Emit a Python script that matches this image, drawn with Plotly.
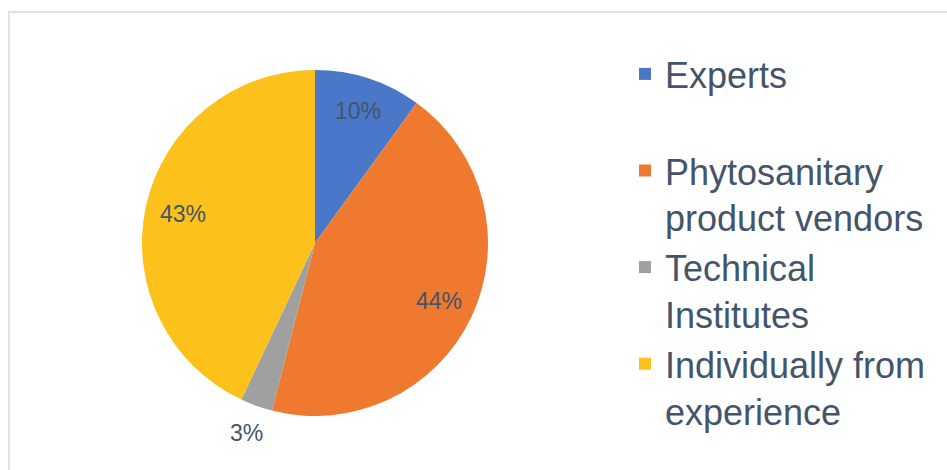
import math
import plotly.graph_objects as go

# Sources of advice on phytosanitary treatments (share of respondents, %)
categories = ["Experts<br>&nbsp;", "Phytosanitary<br>product vendors", "Technical<br>Institutes",
              "Individually from<br>experience"]
values = [10, 44, 3, 43]
colors = ["#4a77c8", "#ef7a2f", "#a0a0a0", "#fdc11c"]
label_dist = [0.80, 0.79, 1.17, 0.78]   # label radius as fraction of pie radius

W, H = 947, 470
cx, cy, R = 315, 243, 173          # pie centre and radius in pixels

TEXT = "#44546a"
FONT = "Liberation Sans, Arial, sans-serif"

fig = go.Figure(go.Pie(
    labels=categories,
    values=values,
    sort=False,
    direction="clockwise",
    rotation=0,
    marker=dict(colors=colors, line=dict(width=0)),
    textinfo="none",
    hoverinfo="percent",
    domain=dict(x=[(cx - R) / W, (cx + R) / W],
                y=[1 - (cy + R) / H, 1 - (cy - R) / H]),
))

# Percentage labels placed at each slice's mid-angle
total = sum(values)
cum = 0
for v, d in zip(values, label_dist):
    mid = (cum + v / 2) / total * 2 * math.pi
    cum += v
    px = cx + d * R * math.sin(mid)
    py = cy - d * R * math.cos(mid)
    fig.add_annotation(x=px / W, y=1 - py / H, xref="paper", yref="paper",
                       xanchor="center", yanchor="middle",
                       text=f"{round(v / total * 100)}%", showarrow=False,
                       font=dict(family=FONT, size=23, color=TEXT))

# Light chart-area frame
fig.add_shape(type="rect", xref="paper", yref="paper",
              x0=9 / W, y0=-0.05, x1=1.05, y1=1 - 12 / H,
              line=dict(color="#dfe3e8", width=2))

fig.update_layout(
    width=W, height=H,
    margin=dict(l=0, r=0, t=0, b=0),
    paper_bgcolor="white",
    plot_bgcolor="white",
    showlegend=True,
    legend=dict(
        x=625 / W, xanchor="left",
        y=1 - 44 / H, yanchor="top",
        valign="top",
        font=dict(family=FONT, size=36, color=TEXT),
        bgcolor="rgba(0,0,0,0)",
        itemclick=False, itemdoubleclick=False,
    ),
)

fig.write_html("out.html")
